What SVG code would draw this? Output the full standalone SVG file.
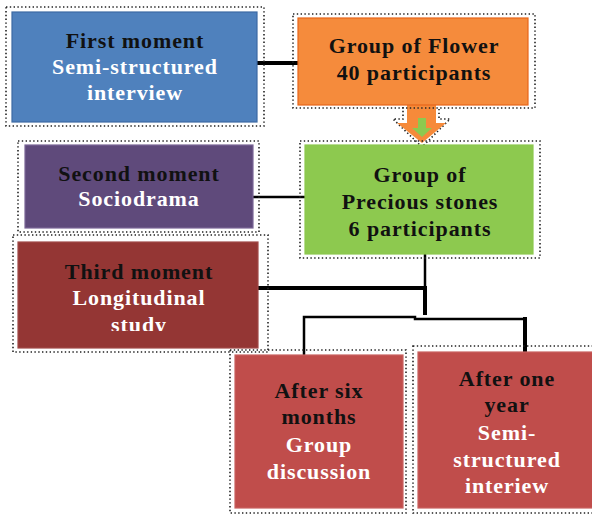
<svg xmlns="http://www.w3.org/2000/svg" width="592" height="516" viewBox="0 0 592 516">
  <style>
    .frame { fill: none; stroke: #222; stroke-width: 1.6; stroke-dasharray: 1.4 2.4; }
    .box { stroke-width: 1.2; }
    .t { font-family: "Liberation Serif", "DejaVu Serif", serif; font-size: 22px; font-weight: bold; letter-spacing: 0.9px; text-anchor: middle; }
    .dk { fill: #111; }
    .wh { fill: #fff; }
    .link { stroke: #000; fill: none; stroke-linecap: butt; }
  </style>
  <defs>
    <clipPath id="thirdClip">
      <rect x="18" y="242" width="240" height="89"/>
    </clipPath>
  </defs>

  <rect width="592" height="516" fill="#fff"/>

  <!-- connectors -->
  <g id="connectors">
    <line class="link" x1="257" y1="63" x2="298" y2="63" stroke-width="4"/>
    <line class="link" x1="253" y1="197" x2="305" y2="197" stroke-width="2.5"/>
    <line class="link" x1="425" y1="254" x2="425" y2="288" stroke-width="2.5"/>
    <line class="link" x1="425" y1="286" x2="425" y2="315" stroke-width="4"/>
    <line class="link" x1="258" y1="288" x2="427" y2="288" stroke-width="4"/>
    <polyline class="link" points="304,355 304,317 415,317 415,319 525,319" stroke-width="2.5"/>
    <line class="link" x1="525" y1="317" x2="525" y2="352" stroke-width="4"/>
  </g>

  <!-- block arrow between the two groups -->
  <g id="arrow">
    <path class="frame" d="M403,107 L403,119 L393,119 L422,147 L450,119 L439,119 L439,107"/>
    <path d="M407,105 L436,105 L436,123 L446,123 L422,143 L397,123 L407,123 Z" fill="#f68a3a"/>
    <path d="M418,118 L426,118 L426,128 L432,128 L422,137 L412,128 L418,128 Z" fill="#8dc94f"/>
  </g>

  <g id="first-moment">
    <rect class="frame" x="6" y="7" width="258" height="119"/>
    <rect class="box" x="12" y="12" width="245" height="110" fill="#4f81bd" stroke="#3d6aa3"/>
    <text class="t dk" x="135" y="48">First moment</text>
    <text class="t wh" x="135" y="74">Semi-structured</text>
    <text class="t wh" x="135" y="100">interview</text>
  </g>

  <g id="group-flower">
    <rect class="frame" x="293" y="14" width="242" height="94"/>
    <rect class="box" x="298" y="18" width="230" height="87" fill="#f58b3c" stroke="#e8661a" stroke-width="2.5"/>
    <text class="t dk" x="414" y="53">Group of Flower</text>
    <text class="t dk" x="414" y="80">40 participants</text>
  </g>

  <g id="second-moment">
    <rect class="frame" x="18" y="141" width="241" height="91"/>
    <rect class="box" x="25" y="145" width="228" height="83" fill="#5f4a7b" stroke="#7a6696"/>
    <text class="t dk" x="139" y="181">Second moment</text>
    <text class="t wh" x="139" y="206">Sociodrama</text>
  </g>

  <g id="group-precious">
    <rect class="frame" x="300" y="141" width="240" height="117"/>
    <rect class="box" x="305" y="145" width="228" height="109" fill="#8dc94f" stroke="#8dc94f"/>
    <text class="t dk" x="420" y="182">Group of</text>
    <text class="t dk" x="420" y="209">Precious stones</text>
    <text class="t dk" x="420" y="236">6 participants</text>
  </g>

  <g id="third-moment">
    <rect class="frame" x="13" y="235" width="255" height="117"/>
    <rect class="box" x="18" y="242" width="240" height="106" fill="#943634" stroke="#a04a48"/>
    <text class="t dk" x="139" y="279">Third moment</text>
    <text class="t wh" x="139" y="305">Longitudinal</text>
    <text class="t wh" x="139" y="332" clip-path="url(#thirdClip)">study</text>
  </g>

  <g id="after-six-months">
    <rect class="frame" x="230" y="350" width="176" height="163"/>
    <rect class="box" x="235" y="355" width="168" height="153" fill="#c04d4b" stroke="#c8625f"/>
    <text class="t dk" x="319" y="398">After six</text>
    <text class="t dk" x="319" y="424">months</text>
    <text class="t wh" x="319" y="452">Group</text>
    <text class="t wh" x="319" y="479">discussion</text>
  </g>

  <g id="after-one-year">
    <rect class="frame" x="413" y="346" width="185" height="167"/>
    <rect class="box" x="418" y="352" width="180" height="156" fill="#c04d4b" stroke="#c8625f"/>
    <text class="t dk" x="507" y="386">After one</text>
    <text class="t dk" x="507" y="412">year</text>
    <text class="t wh" x="507" y="440">Semi-</text>
    <text class="t wh" x="507" y="467">structured</text>
    <text class="t wh" x="507" y="493">interiew</text>
  </g>
</svg>
